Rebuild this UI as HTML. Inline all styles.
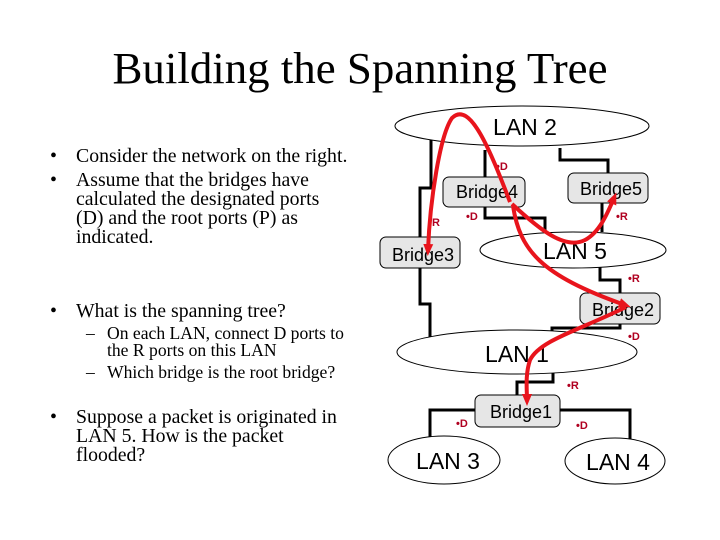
<!DOCTYPE html>
<html><head><meta charset="utf-8"><style>
body{margin:0;background:#fff}
svg{display:block}
.t{font-family:"Liberation Serif",serif;font-size:19.8px;fill:#000}
.s{font-family:"Liberation Serif",serif;font-size:17.6px;fill:#000}
.a{font-family:"Liberation Sans",sans-serif;fill:#000}
.r{font-family:"Liberation Sans",sans-serif;font-size:11px;fill:#b00020;font-weight:bold}
.ln{fill:none;stroke:#000;stroke-width:3}
.cl{fill:#fff;stroke:#000;stroke-width:1}
.bx{fill:#e6e6e6;stroke:#000;stroke-width:1}
.rd{fill:none;stroke:#e8141c;stroke-width:4}
</style></head><body>
<svg width="720" height="540" viewBox="0 0 720 540">
<defs><marker id="m" markerWidth="12" markerHeight="12" refX="6" refY="6" orient="auto" markerUnits="userSpaceOnUse"><path d="M0,1 L12,6 L0,11 Z" fill="#e8141c"/></marker></defs>
<text x="360" y="83" text-anchor="middle" font-family="Liberation Serif,serif" font-size="44" textLength="495" lengthAdjust="spacingAndGlyphs">Building the  Spanning Tree</text>
<text class="t" x="50" y="162">•</text><text class="t" x="76" y="162">Consider the network on the right.</text>
<text class="t" x="50" y="186">•</text><text class="t" x="76" y="186">Assume that the bridges have</text>
<text class="t" x="76" y="205">calculated the designated ports</text>
<text class="t" x="76" y="224">(D) and the root ports (P) as</text>
<text class="t" x="76" y="243">indicated.</text>
<text class="t" x="50" y="317">•</text><text class="t" x="76" y="317">What is the spanning tree?</text>
<text class="s" x="86" y="339">–</text><text class="s" x="107" y="339">On each LAN, connect D ports to</text>
<text class="s" x="107" y="356">the R ports on this LAN</text>
<text class="s" x="86" y="378">–</text><text class="s" x="107" y="378">Which bridge is the root bridge?</text>
<text class="t" x="50" y="423">•</text><text class="t" x="76" y="423">Suppose a packet is originated in</text>
<text class="t" x="76" y="442">LAN 5. How is the packet</text>
<text class="t" x="76" y="461">flooded?</text>

<path class="ln" d="M431,140 V188 H420 V237 M420,268 V304 H430 V343"/>
<path class="ln" d="M485,150 V177 M485,207 V218 H545 V235"/>
<path class="ln" d="M560,148 V160 H608 V173 M602,203 V232"/>
<path class="ln" d="M600,266 V280 H620 V293 M620,324 V328 H552 V337"/>
<path class="ln" d="M553,370 V382 H517 V395 M475,410 H430 V440 M560,410 H630 V442"/>

<ellipse class="cl" cx="522" cy="126" rx="127" ry="20"/>
<ellipse class="cl" cx="573" cy="250" rx="93" ry="18"/>
<ellipse class="cl" cx="517" cy="352" rx="120" ry="22"/>
<ellipse class="cl" cx="444" cy="460" rx="56" ry="24"/>
<ellipse class="cl" cx="615" cy="461" rx="50" ry="23"/>

<rect class="bx" x="443" y="177" width="82" height="30" rx="6"/>
<rect class="bx" x="568" y="173" width="80" height="30" rx="6"/>
<rect class="bx" x="380" y="237" width="80" height="31" rx="6"/>
<rect class="bx" x="580" y="293" width="80" height="31" rx="6"/>
<rect class="bx" x="475" y="395" width="85" height="32" rx="6"/>

<text class="a" x="525" y="135" font-size="23" text-anchor="middle">LAN 2</text>
<text class="a" x="575" y="259" font-size="23" text-anchor="middle">LAN 5</text>
<text class="a" x="517" y="362" font-size="23" text-anchor="middle">LAN 1</text>
<text class="a" x="448" y="469" font-size="23" text-anchor="middle">LAN 3</text>
<text class="a" x="618" y="470" font-size="23" text-anchor="middle">LAN 4</text>
<text class="a" x="456" y="198" font-size="18">Bridge4</text>
<text class="a" x="580" y="195" font-size="18">Bridge5</text>
<text class="a" x="392" y="261" font-size="18">Bridge3</text>
<text class="a" x="592" y="316" font-size="18">Bridge2</text>
<text class="a" x="490" y="418" font-size="18">Bridge1</text>

<text class="r" x="496" y="170">•D</text>
<text class="r" x="466" y="220">•D</text>
<text class="r" x="432" y="226">R</text>
<text class="r" x="616" y="220">•R</text>
<text class="r" x="628" y="282">•R</text>
<text class="r" x="628" y="340">•D</text>
<text class="r" x="567" y="389">•R</text>
<text class="r" x="456" y="427">•D</text>
<text class="r" x="576" y="429">•D</text>

<path class="rd" marker-end="url(#m)" d="M510,202 C490,150 470,100 452,118 C440,135 430,200 428,250"/>
<path class="rd" marker-end="url(#m)" d="M512,204 C540,230 565,250 585,240 C600,232 608,212 614,198"/>
<path class="rd" marker-end="url(#m)" d="M513,206 C520,250 540,275 625,305"/>
<path class="rd" marker-end="url(#m)" d="M626,307 C580,330 540,340 530,360 C525,375 527,390 527,400"/>
</svg>
</body></html>
